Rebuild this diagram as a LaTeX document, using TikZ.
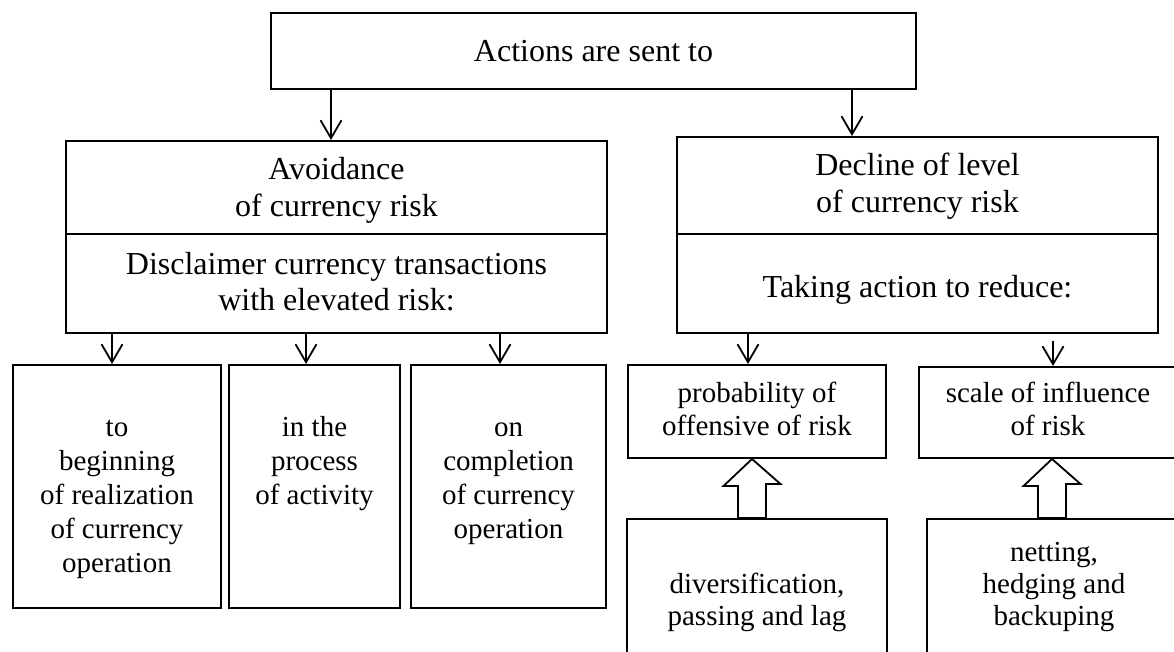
\documentclass[tikz,border=0pt]{standalone}
\usepackage{fontspec}
\setmainfont{Liberation Serif}
\usetikzlibrary{arrows.meta}
\newcommand\mlines[1]{\begin{tabular}[t]{@{}c@{}}#1\end{tabular}}
\begin{document}
\begin{tikzpicture}[x=1pt,y=-1pt,
  box/.style={draw, line width=2pt, inner sep=0pt, rectangle},
  bigtxt/.style={inner sep=0pt, anchor=base, font=\fontsize{32}{37}\selectfont},
  bigtxtb/.style={inner sep=0pt, anchor=base, font=\fontsize{32}{36}\selectfont},
  smalltxt/.style={inner sep=0pt, anchor=base, font=\fontsize{29}{34}\selectfont},
  smalltxtb/.style={inner sep=0pt, anchor=base, font=\fontsize{29}{33}\selectfont},
  smalltxtc/.style={inner sep=0pt, anchor=base, font=\fontsize{29}{32}\selectfont},
  arr/.style={line width=1.8pt, -{Straight Barb[length=18pt,width=21pt,line width=1.8pt]}},
  hollow/.style={draw, line width=1.8pt, fill=white, line join=miter}]
\useasboundingbox (0,0) rectangle (1174,652);
\fill[white] (0,0) rectangle (1174,652);
\clip (0,0) rectangle (1174,652);

% boxes
\node[box, minimum width=645, minimum height=76] (top) at (593.5,51) {};
\node[box, minimum width=541, minimum height=93] (leftup) at (336.5,187.5) {};
\node[box, minimum width=541, minimum height=99] (leftlo) at (336.5,283.5) {};
\node[box, minimum width=481, minimum height=97] (rightup) at (917.5,185.5) {};
\node[box, minimum width=481, minimum height=99] (rightlo) at (917.5,283.5) {};
\node[box, minimum width=208, minimum height=243] (b1) at (117,486.5) {};
\node[box, minimum width=171, minimum height=243] (b2) at (314.5,486.5) {};
\node[box, minimum width=195, minimum height=243] (b3) at (508.5,486.5) {};
\node[box, minimum width=258, minimum height=93] (prob) at (757,411.5) {};
\node[box, minimum width=261, minimum height=91] (scale) at (1049.5,412.5) {};
\node[box, minimum width=260, minimum height=151] (divb) at (757,594.5) {};
\node[box, minimum width=255, minimum height=151] (netb) at (1054.5,594.5) {};

% texts
\node[bigtxt] (t0) at (593.5,62) {Actions are sent to};
\node[bigtxt] (t1) at (336.5,180) {\mlines{Avoidance\\of currency risk}};
\node[bigtxtb] (t2) at (336.5,274) {\mlines{Disclaimer currency transactions\\with elevated risk:}};
\node[bigtxt] (t3) at (917.5,176) {\mlines{Decline of level\\of currency risk}};
\node[bigtxt] (t4) at (917.5,297) {Taking action to reduce:};
\node[smalltxt] (t5) at (117,436) {\mlines{to\\beginning\\of realization\\of currency\\operation}};
\node[smalltxt] (t6) at (314.5,436) {\mlines{in the\\process\\of activity}};
\node[smalltxt] (t7) at (508.5,436) {\mlines{on\\completion\\of currency\\operation}};
\node[smalltxtb] (t8) at (757,402) {\mlines{probability of\\offensive of risk}};
\node[smalltxtb] (t9) at (1048,402) {\mlines{scale of influence\\of risk}};
\node[smalltxtc] (t10) at (757,593) {\mlines{diversification,\\passing and lag}};
\node[smalltxtc] (t11) at (1054,561) {\mlines{netting,\\hedging and\\backuping}};

% arrows
\draw[arr] ([xshift=-262.5pt]top.south) -- ([xshift=-5.5pt]leftup.north);
\draw[arr] ([xshift=258.5pt]top.south) -- ([xshift=-65.5pt]rightup.north);
\draw[arr] ([xshift=-224.5pt]leftlo.south) -- ([xshift=-5pt]b1.north);
\draw[arr] ([xshift=-30.5pt]leftlo.south) -- ([xshift=-8.5pt]b2.north);
\draw[arr] ([xshift=163.5pt]leftlo.south) -- ([xshift=-8.5pt]b3.north);
\draw[arr] ([xshift=-169.5pt]rightlo.south) -- ([xshift=-9pt]prob.north);
\draw[arr] ([xshift=135.5pt,yshift=-7pt]rightlo.south) -- ([xshift=3.5pt]scale.north);

% hollow block arrows
\draw[hollow] ([xshift=-5pt]prob.south) -- ++(-28.5,27) -- ++(14.5,0)
  -- ([xshift=-19pt]divb.north) -- ([xshift=9pt]divb.north)
  -- ++(0,-34) -- ++(14.5,0) -- cycle;
\draw[hollow] ([xshift=2.5pt]scale.south) -- ++(-28.5,27) -- ++(14.5,0)
  -- ([xshift=-16.5pt]netb.north) -- ([xshift=11.5pt]netb.north)
  -- ++(0,-34) -- ++(14.5,0) -- cycle;
\end{tikzpicture}
\end{document}
